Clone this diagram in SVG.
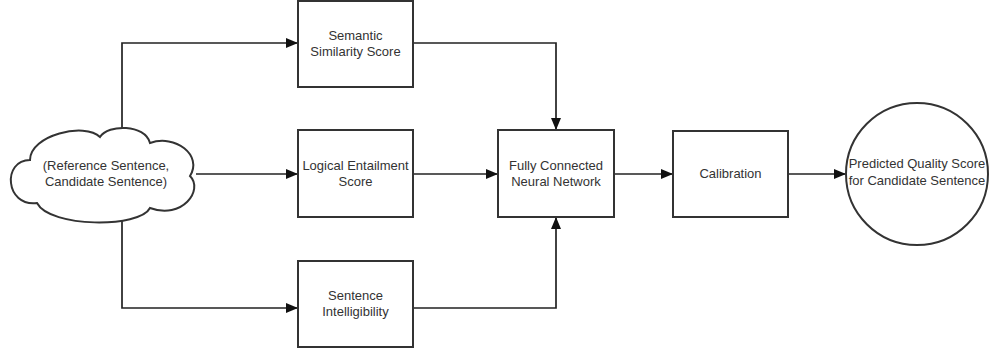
<svg xmlns="http://www.w3.org/2000/svg" width="989" height="353" viewBox="0 0 989 353">
<style>
.box{fill:#fff;stroke:#333;stroke-width:2}
.t{font-family:"Liberation Sans",Arial,sans-serif;font-size:13px;fill:#333;text-anchor:middle}
.c{fill:none;stroke:#222;stroke-width:1.7}
</style>
<defs>
<marker id="ah" markerWidth="12" markerHeight="10" refX="11" refY="5" orient="auto" markerUnits="userSpaceOnUse">
<path d="M0,0 L12,5 L0,10 Z" fill="#111"/>
</marker>
</defs>
<rect width="989" height="353" fill="#fff"/>
<g id="connectors">
<path class="c" d="M122,132 V43 H297" marker-end="url(#ah)"/>
<path class="c" d="M196,174 H297" marker-end="url(#ah)"/>
<path class="c" d="M122,219 V308 H297" marker-end="url(#ah)"/>
<path class="c" d="M414,43 H556 V129" marker-end="url(#ah)"/>
<path class="c" d="M414,174 H497" marker-end="url(#ah)"/>
<path class="c" d="M414,308 H556 V218" marker-end="url(#ah)"/>
<path class="c" d="M614,174 H672" marker-end="url(#ah)"/>
<path class="c" d="M789,174 H845" marker-end="url(#ah)"/>
</g>
<g id="cloud">
<path class="box" d="M30 160 C30 135,85 122,100 137 C108 124,145 124,150 143 C175 134,203 155,190 176 C204 190,182 220,150 208 C140 228,50 228,37 203 C5 207,2 160,30 160 Z"/>
<text class="t" x="106" y="170">(Reference Sentence,</text>
<text class="t" x="106" y="186">Candidate Sentence)</text>
</g>
<g id="semantic">
<rect class="box" x="298" y="1" width="115" height="86"/>
<text class="t" x="355.5" y="40">Semantic</text>
<text class="t" x="355.5" y="56">Similarity Score</text>
</g>
<g id="logical">
<rect class="box" x="298" y="130" width="115" height="87"/>
<text class="t" x="355.5" y="170">Logical Entailment</text>
<text class="t" x="355.5" y="186">Score</text>
</g>
<g id="intelligibility">
<rect class="box" x="298" y="261" width="115" height="86"/>
<text class="t" x="355.5" y="300">Sentence</text>
<text class="t" x="355.5" y="316">Intelligibility</text>
</g>
<g id="fcnn">
<rect class="box" x="498" y="130" width="116" height="87"/>
<text class="t" x="556" y="170">Fully Connected</text>
<text class="t" x="556" y="186">Neural Network</text>
</g>
<g id="calibration">
<rect class="box" x="673" y="131" width="115" height="86"/>
<text class="t" x="730.5" y="178">Calibration</text>
</g>
<g id="predicted">
<circle class="box" cx="917" cy="174" r="71"/>
<text class="t" x="917" y="168">Predicted Quality Score</text>
<text class="t" x="917" y="185">for Candidate Sentence</text>
</g>
</svg>
